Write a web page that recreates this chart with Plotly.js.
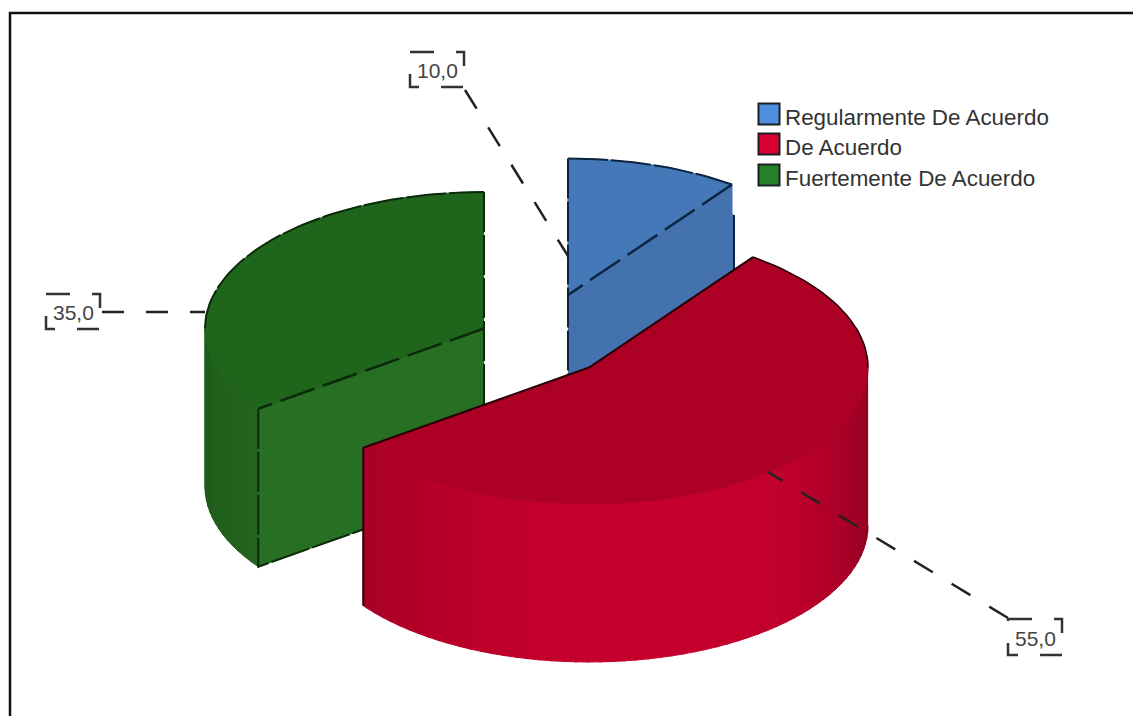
<!DOCTYPE html>
<html>
<head>
<meta charset="utf-8">
<script src="https://cdn.plot.ly/plotly-3.0.1.min.js"></script>
<style>html,body{margin:0;padding:0;background:#fff}#chart{width:1133px;height:716px}</style>
</head>
<body>
<div id="chart"></div>
<script>
// Survey shares, in drawing order clockwise from twelve o'clock
const categories = ['Regularmente De Acuerdo', 'De Acuerdo', 'Fuertemente De Acuerdo'];
const shares = [10, 55, 35];
const valueLabels = ['10,0', '55,0', '35,0'];

const topColors = ['#4478b8', '#ac0024', '#20651c'];
const faceColors = ['#4472ae', '#a60026', '#277023'];
const legendColors = ['#4f8fdf', '#db0033', '#258228'];
const edgeColors = ['#0c2440', '#2a0008', '#0a2a0a'];

// Projected pie: horizontal and vertical radii, extrusion depth, pixel centre of each exploded slice
const RX = 279, RY = 136.5, DEPTH = 158;
const centres = [[568, 295], [589, 367.5], [484, 328.5]];

// Leader runs from the label box to the slice
const leaders = [[[465, 90], [568, 256]], [[1008, 618], [768, 472]], [[102, 312], [205, 312]]];
const labelBoxes = [[410, 52, 464, 87], [1008, 619, 1062, 655], [46, 294, 100, 329]];
const legendRows = [114, 144, 175];

const traces = [];
const rad = d => d * Math.PI / 180;
const pt = (c, deg, dz) => [c[0] + RX * Math.sin(rad(deg)), c[1] - RY * Math.cos(rad(deg)) + (dz || 0)];

function arc(c, a0, a1, dz) {
  const out = [];
  const n = Math.max(2, Math.ceil(Math.abs(a1 - a0) / 1.5));
  for (let i = 0; i <= n; i++) out.push(pt(c, a0 + (a1 - a0) * i / n, dz));
  return out;
}
function poly(points, color, name) {
  traces.push({
    type: 'scatter', mode: 'lines', fill: 'toself', fillcolor: color, name: name,
    x: points.map(p => p[0]), y: points.map(p => p[1]),
    line: {color: color, width: 1}, hoverinfo: 'name', showlegend: false
  });
}
function stroke(points, color, width, dash) {
  traces.push({
    type: 'scatter', mode: 'lines', x: points.map(p => p[0]), y: points.map(p => p[1]),
    line: {color: color, width: width, dash: dash || 'solid'}, hoverinfo: 'skip', showlegend: false
  });
}
function mix(a, b, t) {
  const h = s => [1, 3, 5].map(i => parseInt(s.substr(i, 2), 16));
  const A = h(a), B = h(b);
  return 'rgb(' + A.map((v, i) => Math.round(v + (B[i] - v) * t)).join(',') + ')';
}
// Outer wall shaded in narrow vertical bands between the colours at each stop
function wall(c, a0, a1, stops, name) {
  const step = 2.5;
  for (let a = a0; a < a1; a += step) {
    const b = Math.min(a + step + 0.4, a1);
    const mid = (a + b) / 2, t = (mid - a0) / (a1 - a0) * (stops.length - 1);
    const i = Math.min(Math.floor(t), stops.length - 2);
    poly(arc(c, a, b, 0).concat(arc(c, b, a, DEPTH)), mix(stops[i], stops[i + 1], t - i), name);
  }
}

// Slice angles from the shares
const angles = [];
let running = 0;
shares.forEach(s => { angles.push([running * 3.6, (running + s) * 3.6]); running += s; });
const [blueA, redA, greenA] = angles;
const [blueC, redC, greenC] = centres;
const FINE = '40px,3px', RADIAL = '36px,9px';

// Green slice, farthest left
const gStart = pt(greenC, greenA[0]);
poly([greenC, gStart, pt(greenC, greenA[0], DEPTH), [greenC[0], greenC[1] + DEPTH]], faceColors[2], categories[2]);
wall(greenC, greenA[0], 270, ['#256320', '#1a5a17'], categories[2]);
poly([greenC].concat(arc(greenC, greenA[0], greenA[1])), topColors[2], categories[2]);
stroke(arc(greenC, 270, greenA[1]), edgeColors[2], 2, FINE);
stroke([pt(greenC, 360), [greenC[0], greenC[1] + DEPTH]], edgeColors[2], 2, FINE);
stroke([greenC, gStart], edgeColors[2], 2.5, RADIAL);
stroke([gStart, pt(greenC, greenA[0], DEPTH), [greenC[0], greenC[1] + DEPTH]], edgeColors[2], 2, FINE);

// Blue slice; the lower part of its cut face sits a couple of pixels wider
const bEnd = pt(blueC, blueA[1]);
const bLow = pt(blueC, blueA[1], DEPTH);
const stepY = 215, stepX = bEnd[0] + 2;
poly([blueC, bEnd, bLow, [blueC[0], blueC[1] + DEPTH]], faceColors[0], categories[0]);
poly([[bEnd[0] - 1, stepY], [stepX, stepY], [stepX, bLow[1]], [bEnd[0] - 1, bLow[1]]], faceColors[0], categories[0]);
poly([blueC].concat(arc(blueC, blueA[0], blueA[1])), topColors[0], categories[0]);
stroke(arc(blueC, blueA[0], blueA[1]), edgeColors[0], 2, FINE);
stroke([pt(blueC, 0), [blueC[0], blueC[1] + DEPTH]], edgeColors[0], 2, FINE);
stroke([bEnd, blueC], edgeColors[0], 2.5, RADIAL);
stroke([[stepX, stepY], [stepX, bLow[1]]], edgeColors[0], 2);

// Red slice, nearest the viewer
wall(redC, 90, redA[1], ['#8c001e', '#a80027', '#c2002c', '#c6002e', '#c4002c', '#b80029', '#a80026'], categories[1]);
poly([redC].concat(arc(redC, redA[0], redA[1])), topColors[1], categories[1]);
stroke([pt(redC, redA[0]), redC, pt(redC, redA[1])], edgeColors[1], 2);
stroke(arc(redC, redA[0], 90), edgeColors[1], 1.5);
stroke([pt(redC, redA[1]), pt(redC, redA[1], DEPTH)], edgeColors[1], 2);

// Leader lines and dashed label boxes
leaders.forEach(l => stroke(l, '#222222', 2.5, '22px,22px'));
labelBoxes.forEach(b => stroke(
  [[b[0] + 2, b[1]], [b[2], b[1]], [b[2], b[3]], [b[0], b[3]], [b[0], b[1]], [b[0] + 2, b[1]]],
  '#333333', 2.5, '22px,22px'));

// Legend swatches
traces.push({
  type: 'scatter', mode: 'markers', x: categories.map(() => 769), y: legendRows, hoverinfo: 'text', text: categories,
  marker: {symbol: 'square', size: 21, color: legendColors, line: {color: '#1c2024', width: 2}}, showlegend: false
});

const annotations = [];
labelBoxes.forEach((b, i) => annotations.push({
  x: (b[0] + b[2]) / 2, y: (b[1] + b[3]) / 2 + 1, text: valueLabels[i], showarrow: false,
  xanchor: 'center', yanchor: 'middle', font: {family: 'Liberation Sans', size: 21, color: '#444444'}
}));
categories.forEach((name, i) => annotations.push({
  x: 783, y: legendRows[i] + 3, text: name, showarrow: false,
  xanchor: 'left', yanchor: 'middle', font: {family: 'Liberation Sans', size: 22.4, color: '#333333'}
}));

const hidden = {visible: false, showgrid: false, zeroline: false, fixedrange: true};
Plotly.newPlot('chart', traces, {
  width: 1133, height: 716, margin: {l: 0, r: 0, t: 0, b: 0},
  paper_bgcolor: '#ffffff', plot_bgcolor: '#ffffff', showlegend: false,
  xaxis: Object.assign({range: [0, 1133]}, hidden),
  yaxis: Object.assign({range: [716, 0]}, hidden),
  annotations: annotations,
  shapes: [
    {type: 'line', x0: 10, x1: 10, y0: 12, y1: 716, line: {color: '#111111', width: 2.5}},
    {type: 'line', x0: 9, x1: 1133, y0: 13, y1: 13, line: {color: '#111111', width: 2.5}}
  ]
}, {staticPlot: true, displayModeBar: false});
</script>
</body>
</html>
